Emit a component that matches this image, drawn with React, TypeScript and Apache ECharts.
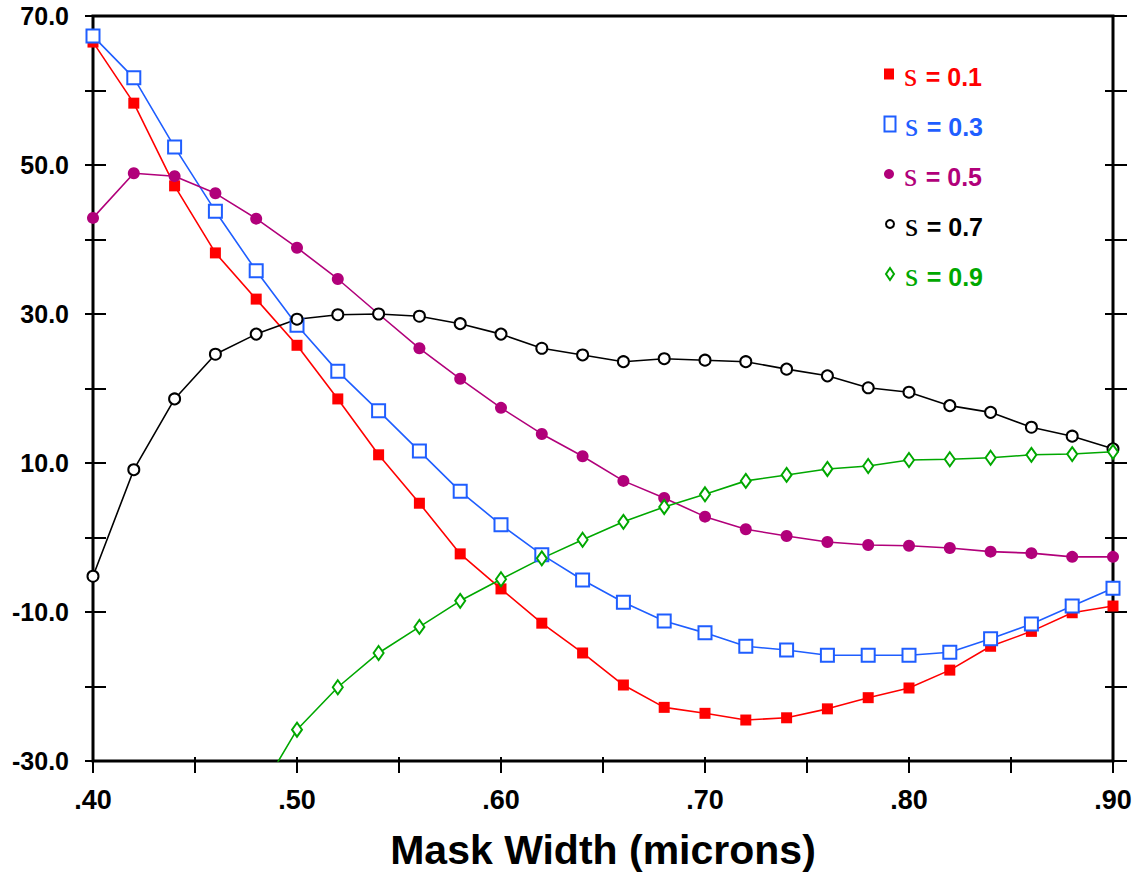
import React, { useEffect, useRef } from "react";
import * as echarts from "echarts";

const maskWidth = [0.40, 0.42, 0.44, 0.46, 0.48, 0.50, 0.52, 0.54, 0.56, 0.58, 0.60, 0.62, 0.64, 0.66, 0.68, 0.70, 0.72, 0.74, 0.76, 0.78, 0.80, 0.82, 0.84, 0.86, 0.88, 0.90];

const s01 = [66.5, 58.3, 47.2, 38.2, 32.0, 25.8, 18.6, 11.1, 4.6, -2.2, -6.9, -11.5, -15.5, -19.8, -22.8, -23.6, -24.5, -24.2, -23.0, -21.5, -20.2, -17.8, -14.6, -12.6, -10.1, -9.2];
const s03 = [67.3, 61.7, 52.4, 43.8, 35.8, 28.5, 22.3, 17.0, 11.6, 6.2, 1.7, -2.3, -5.7, -8.7, -11.2, -12.8, -14.6, -15.1, -15.8, -15.8, -15.8, -15.4, -13.6, -11.6, -9.2, -6.8];
const s05 = [42.9, 48.9, 48.5, 46.2, 42.8, 38.9, 34.7, 30.0, 25.4, 21.3, 17.4, 13.9, 10.9, 7.6, 5.3, 2.8, 1.1, 0.2, -0.6, -1.0, -1.1, -1.4, -1.9, -2.1, -2.6, -2.6];
const s07 = [-5.2, 9.1, 18.6, 24.6, 27.3, 29.3, 29.9, 30.0, 29.7, 28.7, 27.3, 25.4, 24.5, 23.6, 24.0, 23.8, 23.6, 22.6, 21.7, 20.1, 19.5, 17.7, 16.8, 14.8, 13.6, 11.9];
const s09 = [null, null, null, null, -35.0, -25.8, -20.1, -15.5, -12.0, -8.5, -5.6, -2.8, -0.3, 2.1, 4.1, 5.8, 7.6, 8.4, 9.2, 9.6, 10.4, 10.5, 10.7, 11.1, 11.2, 11.5];

const seriesNames = ["s = 0.1", "s = 0.3", "s = 0.5", "s = 0.7", "s = 0.9"];
const seriesColors = ["#ff0000", "#1f5eff", "#b1007a", "#000000", "#00a800"];

const FONT = "'Liberation Sans', Arial, Helvetica, sans-serif";
const SERIF = "Liberation Serif, Times New Roman, Times, serif";

export default function App() {
  const ref = useRef<HTMLDivElement>(null);
  useEffect(() => {
    if (!ref.current) return;
    const chart = echarts.init(ref.current, undefined, { renderer: "svg" });
    const pair = (arr: (number | null)[]) => maskWidth.map((x, i) => [x, arr[i]]);
    const allData = [s01, s03, s05, s07, s09];
    const symbols = ["rect", "emptyRect", "circle", "emptyCircle", "emptyDiamond"];
    const symbolSizes: any[] = [11, 13, 12, 11, [10, 14]];
    const legendIcons = [
      { icon: "rect", w: 10, h: 11 },
      { icon: "emptyRect", w: 11, h: 15 },
      { icon: "circle", w: 10, h: 10 },
      { icon: "emptyCircle", w: 8, h: 8 },
      { icon: "emptyDiamond", w: 8, h: 12 },
    ];
    const legendCenters = [69, 119, 169, 219, 269];

    const xLabel = (v: number) => {
      const k = Math.round(v * 100);
      if (k % 10 !== 0) return "";
      return "." + String(k);
    };
    const yLabel = (v: number) => {
      const k = Math.round(v);
      if (((k + 30) % 20) !== 0) return "";
      return k.toFixed(1);
    };

    const baseX = {
      type: "value",
      min: 0.4,
      max: 0.9,
      interval: 0.05,
      position: "bottom",
      axisLine: { show: false, onZero: false },
      splitLine: { show: false },
    };
    const baseY = {
      type: "value",
      min: -30,
      max: 70,
      interval: 10,
      axisLine: { show: false, onZero: false },
      splitLine: { show: false },
    };

    chart.setOption({
      animation: false,
      backgroundColor: "#ffffff",
      grid: {
        left: 93,
        right: 25,
        top: 16,
        bottom: 115,
        show: true,
        borderColor: "#000",
        borderWidth: 3,
        backgroundColor: "transparent",
      },
      xAxis: [
        {
          ...baseX,
          axisTick: { show: true, inside: false, length: 12, lineStyle: { color: "#000", width: 2 } },
          axisLabel: {
            formatter: xLabel,
            fontFamily: FONT,
            fontWeight: "bold",
            fontSize: 27,
            color: "#000",
            margin: 25,
          },
          name: "Mask Width (microns)",
          nameLocation: "middle",
          nameGap: 68,
          nameTextStyle: { fontFamily: FONT, fontWeight: "bold", fontSize: 41, color: "#000" },
        },
        {
          ...baseX,
          axisTick: { show: true, inside: true, length: 4, lineStyle: { color: "#000", width: 2 } },
          axisLabel: { show: false },
        },
      ],
      yAxis: [
        {
          ...baseY,
          position: "left",
          axisTick: { show: true, inside: false, length: 8, lineStyle: { color: "#000", width: 2 } },
          axisLabel: {
            formatter: yLabel,
            fontFamily: FONT,
            fontWeight: "bold",
            fontSize: 25,
            color: "#000",
            margin: 24,
          },
        },
        {
          ...baseY,
          position: "left",
          axisTick: { show: true, inside: true, length: 13, lineStyle: { color: "#000", width: 2 } },
          axisLabel: { show: false },
        },
        {
          ...baseY,
          position: "right",
          axisTick: { show: true, inside: false, length: 14, lineStyle: { color: "#000", width: 2 } },
          axisLabel: { show: false },
        },
        {
          ...baseY,
          position: "right",
          axisTick: { show: true, inside: true, length: 8, lineStyle: { color: "#000", width: 2 } },
          axisLabel: { show: false },
        },
      ],
      legend: seriesNames.map((name, i) => {
        const li = legendIcons[i];
        const pad = Math.max(0, 10 - li.w / 2);
        const val = name.replace("s ", "");
        return {
          show: true,
          orient: "vertical",
          left: 884 - li.w / 2,
          top: legendCenters[i] - 17,
          itemWidth: li.w,
          itemHeight: li.h,
          selectedMode: false,
          data: [{ name, icon: li.icon }],
          formatter: () => `{s|s }{b|${val}}`,
          textStyle: {
            color: seriesColors[i],
            rich: {
              s: {
                fontFamily: SERIF,
                fontWeight: "normal",
                fontSize: 34,
                color: seriesColors[i],
                padding: [0, 0, 0, pad],
              },
              b: {
                fontFamily: FONT,
                fontWeight: "bold",
                fontSize: 25,
                color: seriesColors[i],
                padding: [6, 0, 0, 0],
              },
            },
          },
        };
      }),
      series: seriesNames.map((name, i) => ({
        name,
        type: "line",
        xAxisIndex: 0,
        yAxisIndex: 0,
        data: pair(allData[i]),
        symbol: symbols[i],
        symbolSize: symbolSizes[i],
        showAllSymbol: true,
        clip: true,
        connectNulls: false,
        lineStyle: { color: seriesColors[i], width: 1.6 },
        itemStyle: { color: seriesColors[i], borderWidth: 1.8 },
        emphasis: { disabled: true },
      })),
    });
    return () => chart.dispose();
  }, []);
  return (
    <div
      ref={ref}
      style={{ position: "absolute", left: 0, top: 0, width: 1138, height: 876 }}
    />
  );
}
